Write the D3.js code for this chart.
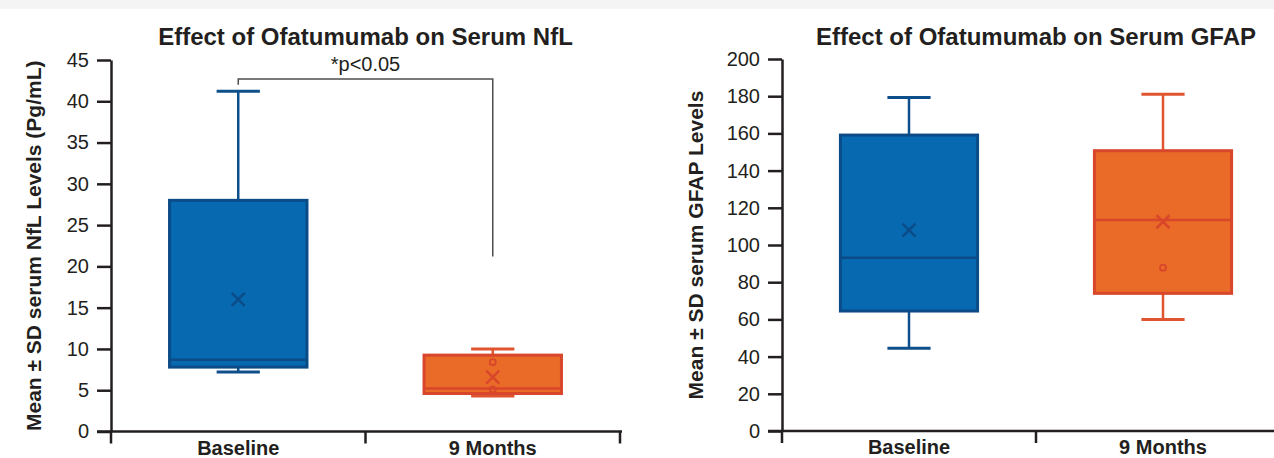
<!DOCTYPE html>
<html>
<head>
<meta charset="utf-8">
<script src="https://cdn.jsdelivr.net/npm/d3@7"></script>
<style>
  html, body { margin: 0; padding: 0; background: #fff; }
  text { font-family: "Liberation Sans", Arial, Helvetica, sans-serif; fill: #231f20; }
</style>
</head>
<body>
<div id="chart"></div>
<script>
const categories = ["Baseline", "9 Months"]

// NfL box stats (pg/mL), one entry per category
const nflWhiskerLow = [7.2, 4.3]
const nflQ1 = [7.8, 4.6]
const nflMedian = [8.7, 5.2]
const nflQ3 = [28.0, 9.25]
const nflWhiskerHigh = [41.2, 10.0]
const nflMean = [16.0, 6.6]
const nflOutliers = [[], [8.4, 5.1]]
const nflTicks = [0, 5, 10, 15, 20, 25, 30, 35, 40, 45]
// significance bracket: [left leg end, bar level, right leg end]
const nflBracket = [42.0, 42.7, 21.2]
const nflBracketLabel = "*p<0.05"

// GFAP box stats
const gfapWhiskerLow = [44.5, 60.0]
const gfapQ1 = [64.5, 74.0]
const gfapMedian = [93.2, 113.4]
const gfapQ3 = [159.1, 150.7]
const gfapWhiskerHigh = [179.3, 181.0]
const gfapMean = [108.0, 112.5]
const gfapOutliers = [[], [87.8]]
const gfapTicks = [0, 20, 40, 60, 80, 100, 120, 140, 160, 180, 200]

const fillColors = ["#0769b0", "#ea6a27"]
const strokeColors = ["#0b4c88", "#d8462b"]
const whiskerColors = ["#0d4f8a", "#e0542f"]

const width = 1274, height = 458

const svg = d3.select("#chart").append("svg")
    .attr("width", width)
    .attr("height", height)
    .attr("viewBox", [0, 0, width, height])

// thin grey strip on top
svg.append("rect").attr("x", 0).attr("y", 0).attr("width", width).attr("height", 9).attr("fill", "#f4f4f4")

function drawPanel(p) {
    const x = d3.scaleBand().domain(categories).range([p.left, p.right]).padding(0)
    const y = d3.scaleLinear().domain([0, d3.max(p.ticks)]).range([p.bottom, p.top])
    const g = svg.append("g")
    const bw = x.bandwidth() * 0.54
    const cap = x.bandwidth() * 0.17
    const cx = d => x(d) + x.bandwidth() / 2

    // title
    g.append("text")
        .attr("x", (p.left + p.right) / 2)
        .attr("y", 45)
        .attr("text-anchor", "middle")
        .style("font-size", "24px")
        .style("font-weight", "bold")
        .text(p.title)

    // y axis
    const yAxis = g.append("g")
        .attr("transform", `translate(${p.left},0)`)
        .call(d3.axisLeft(y).tickValues(p.ticks).tickSize(14).tickSizeOuter(0).tickPadding(8))
    yAxis.select(".domain").attr("stroke", "#231f20").attr("stroke-width", 2.5)
    yAxis.selectAll(".tick line").attr("stroke", "#231f20").attr("stroke-width", 2.5)
    yAxis.selectAll(".tick text")
        .style("font-size", "20px")
        .style("font-family", "'Liberation Sans', Arial, sans-serif")
        .attr("fill", "#231f20")

    // y label
    g.append("text")
        .attr("transform", `translate(${p.labelX},${(p.top + p.bottom) / 2}) rotate(-90)`)
        .attr("text-anchor", "middle")
        .style("font-size", "21px")
        .style("font-weight", "bold")
        .text(p.yLabel)

    // x axis: line with ticks at the category edges
    const edges = [p.left].concat(categories.map(c => x(c) + x.bandwidth()))
    g.append("line")
        .attr("x1", p.left - 14).attr("x2", p.right + 2)
        .attr("y1", y(0)).attr("y2", y(0))
        .attr("stroke", "#231f20").attr("stroke-width", 2.5)
    g.selectAll(".xedge")
        .data(edges)
        .join("line")
        .attr("x1", d => d).attr("x2", d => d)
        .attr("y1", y(0)).attr("y2", y(0) + 12)
        .attr("stroke", "#231f20").attr("stroke-width", 2.5)
    const xAxis = g.append("g")
        .attr("transform", `translate(0,${y(0)})`)
        .call(d3.axisBottom(x).tickSize(0).tickPadding(9))
    xAxis.select(".domain").remove()
    xAxis.selectAll(".tick text")
        .style("font-size", "20px")
        .style("font-weight", "bold")
        .style("font-family", "'Liberation Sans', Arial, sans-serif")
        .attr("fill", "#231f20")

    // boxes
    const boxes = g.selectAll(".box")
        .data(categories.map((c, i) => ({ c, i })))
        .join("g")

    // whiskers
    boxes.append("line")
        .attr("x1", d => cx(d.c)).attr("x2", d => cx(d.c))
        .attr("y1", d => y(p.high[d.i])).attr("y2", d => y(p.q3[d.i]))
        .attr("stroke", d => whiskerColors[d.i]).attr("stroke-width", 2.5)
    boxes.append("line")
        .attr("x1", d => cx(d.c)).attr("x2", d => cx(d.c))
        .attr("y1", d => y(p.low[d.i])).attr("y2", d => y(p.q1[d.i]))
        .attr("stroke", d => whiskerColors[d.i]).attr("stroke-width", 2.5)
    boxes.selectAll(".cap")
        .data(d => [p.low[d.i], p.high[d.i]].map(v => ({ v, c: d.c, i: d.i })))
        .join("line")
        .attr("x1", d => cx(d.c) - cap / 2).attr("x2", d => cx(d.c) + cap / 2)
        .attr("y1", d => y(d.v)).attr("y2", d => y(d.v))
        .attr("stroke", d => whiskerColors[d.i]).attr("stroke-width", 3)

    boxes.append("rect")
        .attr("x", d => cx(d.c) - bw / 2)
        .attr("width", bw)
        .attr("y", d => y(p.q3[d.i]))
        .attr("height", d => y(p.q1[d.i]) - y(p.q3[d.i]))
        .attr("fill", d => fillColors[d.i])
        .attr("stroke", d => strokeColors[d.i])
        .attr("stroke-width", 3)

    boxes.append("line")
        .attr("x1", d => cx(d.c) - bw / 2).attr("x2", d => cx(d.c) + bw / 2)
        .attr("y1", d => y(p.median[d.i])).attr("y2", d => y(p.median[d.i]))
        .attr("stroke", d => strokeColors[d.i]).attr("stroke-width", 2.5)

    // mean markers
    const s = 6.5
    boxes.append("path")
        .attr("d", d => {
            const mx = cx(d.c), my = y(p.mean[d.i])
            return `M${mx - s},${my - s}L${mx + s},${my + s}M${mx - s},${my + s}L${mx + s},${my - s}`
        })
        .attr("fill", "none")
        .attr("stroke", d => strokeColors[d.i])
        .attr("stroke-width", 2.5)

    // outliers
    boxes.selectAll(".out")
        .data(d => p.outliers[d.i].map(v => ({ v, c: d.c, i: d.i })))
        .join("circle")
        .attr("cx", d => cx(d.c))
        .attr("cy", d => y(d.v))
        .attr("r", 3)
        .attr("fill", "none")
        .attr("stroke", d => strokeColors[d.i])
        .attr("stroke-width", 1.8)

    // significance bracket
    if (p.bracket) {
        const [l, top, r] = p.bracket
        const x0 = cx(categories[0]), x1 = cx(categories[1])
        g.append("path")
            .attr("d", `M${x0},${y(l)}V${y(top)}H${x1}V${y(r)}`)
            .attr("fill", "none")
            .attr("stroke", "#4d4d4d")
            .attr("stroke-width", 1.5)
        g.append("text")
            .attr("x", (x0 + x1) / 2)
            .attr("y", y(top) - 8)
            .attr("text-anchor", "middle")
            .style("font-size", "20px")
            .text(p.bracketLabel)
    }
}

drawPanel({
    left: 111, right: 620, top: 60, bottom: 431.5, labelX: 41,
    title: "Effect of Ofatumumab on Serum NfL",
    yLabel: "Mean ± SD serum NfL Levels (Pg/mL)",
    ticks: nflTicks,
    low: nflWhiskerLow, q1: nflQ1, median: nflMedian, q3: nflQ3, high: nflWhiskerHigh,
    mean: nflMean, outliers: nflOutliers,
    bracket: nflBracket, bracketLabel: nflBracketLabel
})

drawPanel({
    left: 782, right: 1290, top: 59, bottom: 431, labelX: 703,
    title: "Effect of Ofatumumab on Serum GFAP",
    yLabel: "Mean ± SD serum GFAP Levels",
    ticks: gfapTicks,
    low: gfapWhiskerLow, q1: gfapQ1, median: gfapMedian, q3: gfapQ3, high: gfapWhiskerHigh,
    mean: gfapMean, outliers: gfapOutliers
})
</script>
</body>
</html>
